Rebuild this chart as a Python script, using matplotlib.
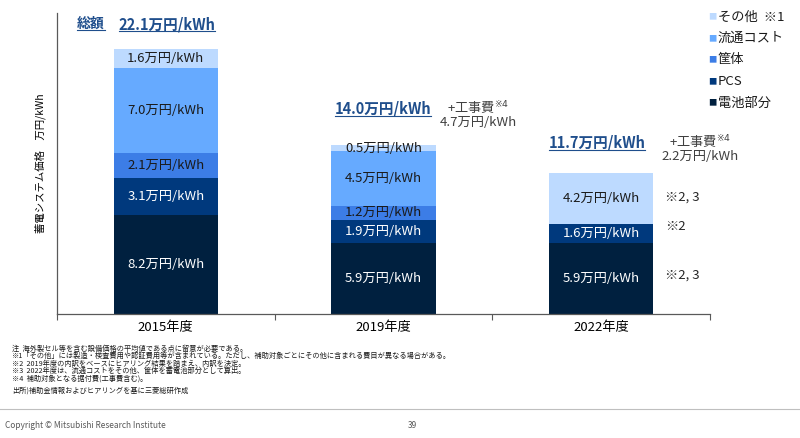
import numpy as np
import matplotlib.pyplot as plt
from matplotlib.lines import Line2D

plt.rcParams['font.family'] = ['Noto Sans CJK JP', 'DejaVu Sans']

# --------------------------
# データ
# --------------------------
years = ['2015年度', '2019年度', '2022年度']
battery = [8.2, 5.9, 5.9]
pcs = [3.1, 1.9, 1.6]
casing = [2.1, 1.2, 0.0]
distribution = [7.0, 4.5, 0.0]
other = [1.6, 0.5, 4.2]
totals = ['22.1', '14.0', '11.7']
construction = [None, '4.7', '2.2']

series = [
    ('電池部分', battery, '#00203F', 'white'),
    ('PCS', pcs, '#00397D', 'white'),
    ('筐体', casing, '#3C7DE6', '#1a1a1a'),
    ('流通コスト', distribution, '#66AAFF', '#1a1a1a'),
    ('その他  ※1', other, '#BDDAFF', '#1a1a1a'),
]

notes = [
    '注  海外製セル等を含む設備価格の平均値である点に留意が必要である。',
    '※1「その他」には製造・検査費用や認証費用等が含まれている。ただし、補助対象ごとにその他に含まれる費目が異なる場合がある。',
    '※2  2019年度の内訳をベースにヒアリング結果を踏まえ、内訳を決定。',
    '※3  2022年度は、流通コストをその他、筐体を蓄電池部分として算出。',
    '※4  補助対象となる据付費(工事費含む)。',
]

# --------------------------
# 図
# --------------------------
fig = plt.figure(figsize=(8, 4.38), dpi=100)
ax = fig.add_axes([57 / 800, 1 - 314 / 438, 653 / 800, 301 / 438])

x = np.arange(len(years))
bottom = np.zeros(len(years))
for name, vals, color, tcolor in series:
    vals = np.array(vals)
    ax.bar(x, vals, width=0.48, bottom=bottom, color=color, edgecolor='none')
    for xi, v, b in zip(x, vals, bottom):
        if v > 0:
            ax.text(xi, b + v / 2, f'{v:.1f}万円/kWh', ha='center', va='center',
                    fontsize=9.5, color=tcolor)
    bottom += vals

ax.set_xlim(-0.5, 2.5)
ax.set_ylim(0, 25)
ax.set_yticks([])
ax.set_xticks([-0.5, 0.5, 1.5, 2.5])
ax.set_xticklabels([])
ax.set_xticks(x, minor=True)
ax.set_xticklabels(years, minor=True, fontsize=9.5)
ax.tick_params(axis='x', which='major', length=4, color='#595959', width=0.8)
ax.tick_params(axis='x', which='minor', length=0, pad=5)
for s in ['top', 'right']:
    ax.spines[s].set_visible(False)
for s in ['left', 'bottom']:
    ax.spines[s].set_color('#595959')
    ax.spines[s].set_linewidth(0.9)

ax.set_ylabel('蓄電システム価格　万円/kWh', fontsize=7.5, labelpad=8)

# 総額ラベル
blue = '#1F4E8C'
underlined = []
underlined.append(fig.text(91 / 800, 1 - 24 / 438, '総額', ha='center', va='center',
                           fontsize=10, fontweight='bold', color=blue))
pos_tot = [(167, 24), (383, 109), (597, 143)]
for t, (px, py) in zip(totals, pos_tot):
    underlined.append(fig.text(px / 800, 1 - py / 438, f'{t}万円/kWh', ha='center',
                               va='center', fontsize=10.5, fontweight='bold', color=blue))

pos_con = [None, (478, 108), (700, 142)]
for c, p in zip(construction, pos_con):
    if c is None:
        continue
    px, py = p
    fig.text(px / 800, 1 - py / 438, '+工事費$^{※4}$', ha='center', va='center',
             fontsize=9.5, color='#404040')
    fig.text(px / 800, 1 - (py + 15) / 438, f'{c}万円/kWh', ha='center', va='center',
             fontsize=9.5, color='#404040')

for txt, py in [('※2, 3', 197), ('※2', 227), ('※2, 3', 275)]:
    fig.text(665 / 800, 1 - py / 438, txt, ha='left', va='center', fontsize=9.5,
             color='#262626')

# 凡例
for i, (name, vals, color, tcolor) in enumerate(reversed(series)):
    py = 17 + i * 21.5
    fig.text(712 / 800, 1 - py / 438, '■', ha='center', va='center', fontsize=6,
             color=color)
    fig.text(718 / 800, 1 - py / 438, name, ha='left', va='center', fontsize=9.5,
             color='#1a1a1a')

# 注記
for i, n in enumerate(notes):
    fig.text(12 / 800, 1 - (349 + i * 7.3) / 438, n, ha='left', va='center',
             fontsize=5.2, color='#1a1a1a')
fig.text(12 / 800, 1 - 391 / 438, '出所)補助金情報およびヒアリングを基に三菱総研作成', ha='left',
         va='center', fontsize=5.2, color='#1a1a1a')

fig.add_artist(Line2D([0, 1], [1 - 409 / 438] * 2, color='#BFBFBF', linewidth=0.8))
fig.text(5 / 800, 1 - 426 / 438, 'Copyright © Mitsubishi Research Institute', ha='left',
         va='center', fontsize=6, color='#595959')
fig.text(412 / 800, 1 - 426 / 438, '39', ha='center', va='center', fontsize=6,
         color='#595959')

# 下線
fig.canvas.draw()
r = fig.canvas.get_renderer()
inv = fig.transFigure.inverted()
for t in underlined:
    bb = t.get_window_extent(r)
    (x0, y0), (x1, y1) = inv.transform([(bb.x0, bb.y0 + 1), (bb.x1, bb.y0 + 1)])
    fig.add_artist(Line2D([x0, x1], [y0, y1], color=blue, linewidth=0.8))

fig.savefig('out.png', dpi=100)
